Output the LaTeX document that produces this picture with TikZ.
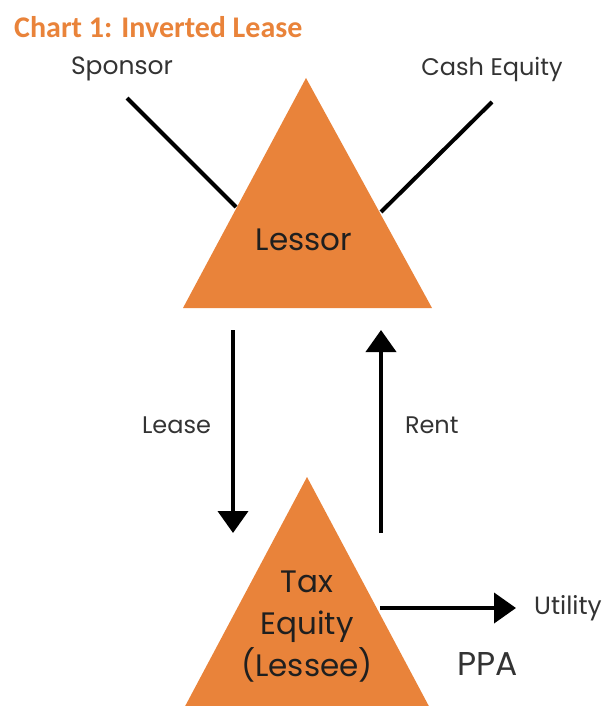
\documentclass[tikz,border=0pt]{standalone}
\usepackage{fontspec}
\setmainfont{Poppins}
\newfontfamily\titlefont{Carlito}
\usetikzlibrary{arrows.meta}
\definecolor{leaseorange}{HTML}{E9833A}
\definecolor{labelgray}{HTML}{333333}
\begin{document}
\begin{tikzpicture}
        [x=1pt, y=-1pt,
        party/.style={fill=leaseorange, draw=none},
        label/.style={text=labelgray, inner sep=0pt, font=\fontsize{25}{30}\selectfont},
        inlabel/.style={text=labelgray!60!black, inner sep=0pt, align=center, font=\fontsize{31}{42}\selectfont},
        flow/.style={line width=4pt, -{Triangle[width=30pt, length=22pt]}},
        tie/.style={line width=4pt}]
        \useasboundingbox (0,0) rectangle (608,706);
        
        \node[anchor=west, inner sep=0pt, text=leaseorange, font=\titlefont\bfseries\fontsize{30}{32}\selectfont] (T) at (14,27) {Chart 1: Inverted Lease};
        
        % lessor triangle
        \coordinate (LA) at (306,78);
        \coordinate (LL) at (183,308);
        \coordinate (LR) at (432,308);
        \fill[party] (LA) -- (LL) -- (LR) -- cycle;
        \node[inlabel] (L) at (304,240) {Lessor};
        
        % lessee triangle
        \coordinate (EA) at (307,477);
        \coordinate (EL) at (182,712);
        \coordinate (ER) at (432,712);
        \fill[party] (EA) -- (EL) -- (ER) -- cycle;
        \node[inlabel] (E) at (307,627) {Tax\\Equity\\(Lessee)};
        
        \node[label] (S) at (122,69) {Sponsor};
        \node[label, font=\fontsize{24}{30}\selectfont] (C) at (492,69) {Cash Equity};
        \node[label] (U) at (568,608) {Utility};
        \node[label, font=\fontsize{33}{38}\selectfont] (P) at (488,664) {PPA};
        
        \coordinate (S1) at (127,98);
        \coordinate (S2) at (236,207);
        \coordinate (C1) at (492,102);
        \coordinate (C2) at (381,212);
        \draw[tie] (S1) -- (S2);
        \draw[tie] (C1) -- (C2);
        
        \coordinate (D1) at (233,330);
        \coordinate (D2) at (233,533);
        \coordinate (R1) at (381,533);
        \coordinate (R2) at (381,330);
        \coordinate (U1) at (380,608);
        \coordinate (U2) at (516,608);
        \draw[flow] (D1) -- (D2) node[midway, left=20pt, yshift=6pt, label, font=\fontsize{24}{28}\selectfont] (LS) {Lease};
        \draw[flow] (R1) -- (R2) node[midway, right=22pt, yshift=6pt, label, font=\fontsize{24}{28}\selectfont] (RN) {Rent};
        \draw[flow] (U1) -- (U2);
    \end{tikzpicture}
\end{document}
